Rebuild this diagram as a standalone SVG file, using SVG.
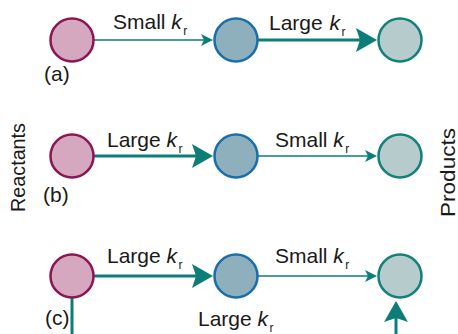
<svg xmlns="http://www.w3.org/2000/svg" width="458" height="334" viewBox="0 0 458 334">
<style>
.t{font-family:"Liberation Sans",Arial,Helvetica,sans-serif;font-size:21px;fill:#1a1a1a}
.k{font-style:italic}
.s{font-size:12px}
.r1{fill:#d6a8bf;stroke:#8c1654;stroke-width:2.5}
.r2{fill:#8eb0bd;stroke:#1a6ea9;stroke-width:2.5}
.r3{fill:#b6cbcb;stroke:#11807a;stroke-width:2.5}
.thin{stroke:#0c7e77;stroke-width:1.6;fill:none;marker-end:url(#ah-s)}
.thick{stroke:#0c7e77;stroke-width:3;fill:none;marker-end:url(#ah-l)}
.plain{stroke:#0c7e77;stroke-width:3;fill:none}
</style>
<defs>
<marker id="ah-l" viewBox="0 0 21 24" refX="11" refY="12" markerWidth="21" markerHeight="24" markerUnits="userSpaceOnUse" orient="auto">
<path d="M0,0 L21,12 L0,24 L4,12 Z" fill="#0c7e77"/>
</marker>
<marker id="ah-s" viewBox="0 0 12 12" refX="6" refY="6" markerWidth="12" markerHeight="12" markerUnits="userSpaceOnUse" orient="auto">
<path d="M0,0 L12,6 L0,12 L3,6 Z" fill="#0c7e77"/>
</marker>
</defs>
<g id="connectors">
<line class="thin" x1="94" y1="40" x2="207" y2="40"/>
<line class="thick" x1="258" y1="40" x2="367" y2="40"/>
<line class="thick" x1="94" y1="156" x2="203" y2="156"/>
<line class="thin" x1="258" y1="156" x2="371" y2="156"/>
<line class="thick" x1="94" y1="276" x2="203" y2="276"/>
<line class="thin" x1="258" y1="276" x2="371" y2="276"/>
<line class="plain" x1="72" y1="297" x2="72" y2="336"/>
<line class="thick" x1="396" y1="336" x2="396" y2="311"/>
</g>
<g id="node-a1"><circle class="r1" cx="72" cy="40" r="21.5"/></g>
<g id="node-a2"><circle class="r2" cx="236" cy="40" r="21.5"/></g>
<g id="node-a3"><circle class="r3" cx="400" cy="40" r="21.5"/></g>
<g id="node-b1"><circle class="r1" cx="72" cy="156" r="21.5"/></g>
<g id="node-b2"><circle class="r2" cx="236" cy="156" r="21.5"/></g>
<g id="node-b3"><circle class="r3" cx="400" cy="156" r="21.5"/></g>
<g id="node-c1"><circle class="r1" cx="72" cy="276" r="21.5"/></g>
<g id="node-c2"><circle class="r2" cx="236" cy="276" r="21.5"/></g>
<g id="node-c3"><circle class="r3" cx="400" cy="276" r="21.5"/></g>
<g id="labels">
<text class="t" x="113" y="29">Small <tspan class="k">k</tspan><tspan class="s" dx="1.5" dy="6">r</tspan></text>
<text class="t" x="269" y="30">Large <tspan class="k" dx="1">k</tspan><tspan class="s" dx="1.5" dy="6">r</tspan></text>
<text class="t" x="107" y="147">Large <tspan class="k">k</tspan><tspan class="s" dx="1.5" dy="6">r</tspan></text>
<text class="t" x="275" y="147">Small <tspan class="k">k</tspan><tspan class="s" dx="1.5" dy="6">r</tspan></text>
<text class="t" x="107" y="263">Large <tspan class="k">k</tspan><tspan class="s" dx="1.5" dy="6">r</tspan></text>
<text class="t" x="275" y="263">Small <tspan class="k">k</tspan><tspan class="s" dx="1.5" dy="6">r</tspan></text>
<text class="t" x="198" y="326">Large <tspan class="k">k</tspan><tspan class="s" dx="1.5" dy="6">r</tspan></text>
<text class="t" x="44" y="81">(a)</text>
<text class="t" x="43" y="202">(b)</text>
<text class="t" x="45" y="325">(c)</text>
<text class="t" transform="translate(25,167.5) rotate(-90)" text-anchor="middle" textLength="89" lengthAdjust="spacingAndGlyphs">Reactants</text>
<text class="t" transform="translate(455,172.5) rotate(-90)" text-anchor="middle" textLength="89" lengthAdjust="spacingAndGlyphs">Products</text>
</g>
</svg>
